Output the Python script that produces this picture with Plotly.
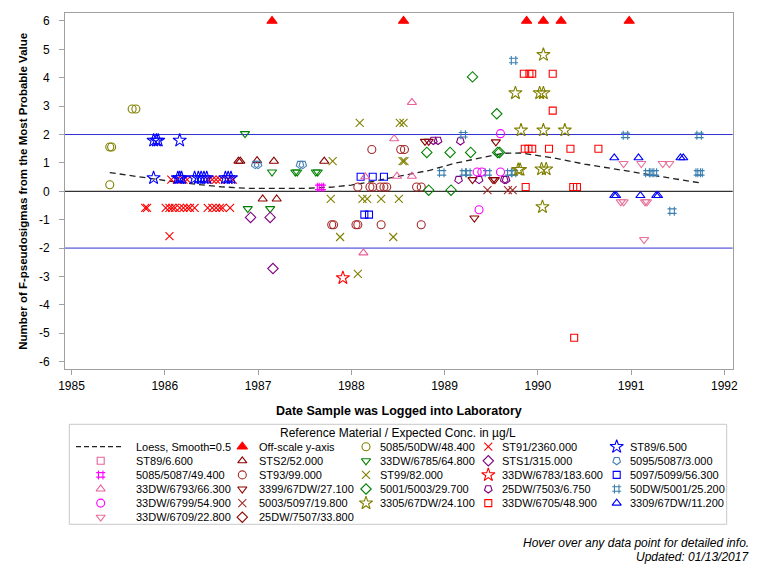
import plotly.graph_objects as go

# ---------------- data (decimal year, F-pseudosigmas) ----------------
x_ticks = [1985, 1986, 1987, 1988, 1989, 1990, 1991, 1992]
y_ticks = [-6, -5, -4, -3, -2, -1, 0, 1, 2, 3, 4, 5, 6]
y_tick_labels = ["-6", "-5", "-4", "-3", "-2", "-1", "0", "1", "2", "3", "4", "5", "6"]
ref_lines_blue = [2, -2]
ref_line_black = [0]

loess_x = [1985.41, 1985.7, 1986.0, 1986.3, 1986.6, 1986.9, 1987.2, 1987.5, 1987.8, 1988.0,
           1988.23, 1988.5, 1988.84, 1989.1, 1989.34, 1989.63, 1989.81, 1990.0, 1990.16,
           1990.5, 1990.88, 1991.3, 1991.73]
loess_y = [0.66, 0.52, 0.38, 0.26, 0.16, 0.10, 0.09, 0.10, 0.15, 0.22,
           0.35, 0.52, 0.74, 0.98, 1.15, 1.34, 1.35, 1.27, 1.18,
           0.96, 0.76, 0.52, 0.30]

offscale_x = [1987.15, 1988.56, 1989.88, 1990.06, 1990.25, 1990.98]
offscale_y = [6, 6, 6, 6, 6, 6]

s5085_50dw_x = [1985.65, 1985.69, 1985.41, 1985.43, 1985.41]
s5085_50dw_y = [2.90, 2.90, 1.56, 1.56, 0.23]

st91_x = [1986.07, 1986.13, 1986.20, 1986.24, 1986.46, 1986.51, 1986.55, 1986.59, 1986.68, 1986.73,
          1985.79, 1985.81, 1986.01, 1986.05, 1986.08, 1986.11, 1986.16, 1986.20, 1986.24, 1986.27,
          1986.32, 1986.46, 1986.51, 1986.55, 1986.59, 1986.62, 1986.70, 1986.05]
st91_y = [0.41, 0.41, 0.41, 0.41, 0.41, 0.41, 0.41, 0.41, 0.41, 0.41,
          -0.58, -0.58, -0.58, -0.58, -0.58, -0.58, -0.58, -0.58, -0.58, -0.58,
          -0.58, -0.58, -0.58, -0.58, -0.58, -0.58, -0.58, -1.58]

st89_65_x = [1985.88, 1985.91, 1985.93, 1986.16, 1985.88, 1986.14, 1986.16, 1986.18,
             1986.32, 1986.36, 1986.39, 1986.42, 1986.45, 1986.65, 1986.68, 1986.71]
st89_65_y = [1.79, 1.79, 1.79, 1.79, 0.47, 0.47, 0.47, 0.47,
             0.47, 0.47, 0.47, 0.47, 0.47, 0.47, 0.47, 0.47]

st89_66_x = []
st89_66_y = []

sts2_x = [1986.79, 1986.81, 1987.17, 1986.99, 1987.71, 1987.05, 1987.20]
sts2_y = [1.06, 1.06, 1.06, 1.08, 1.06, -0.27, -0.27]

s6785_x = [1986.86, 1987.15, 1987.40, 1987.42, 1987.62, 1987.64, 1986.89, 1987.13]
s6785_y = [2.03, 0.68, 0.68, 0.68, 0.68, 0.68, -0.61, -0.61]

sts1_x = [1986.92, 1987.13, 1987.16]
sts1_y = [-0.92, -0.92, -2.72]

s5095_x = [1986.97, 1987.00, 1987.45, 1987.48]
s5095_y = [0.94, 0.94, 0.94, 0.94]

s5085_5087_x = [1987.66, 1987.68]
s5085_5087_y = [0.14, 0.14]

st93_x = [1988.22, 1988.53, 1988.57, 1988.07, 1988.20, 1988.23, 1988.31, 1988.35, 1988.38,
          1988.70, 1988.75, 1987.79, 1987.81, 1988.05, 1988.07, 1988.32, 1988.75]
st93_y = [1.47, 1.47, 1.47, 0.15, 0.15, 0.15, 0.15, 0.15, 0.15,
          0.15, 0.15, -1.18, -1.18, -1.18, -1.18, -1.18, -1.18]

st99_x = [1988.09, 1988.52, 1988.56, 1987.80, 1988.55, 1988.57, 1987.78, 1988.12, 1988.17,
          1988.32, 1988.51, 1987.88, 1988.45, 1988.07]
st99_y = [2.41, 2.41, 2.41, 1.06, 1.06, 1.06, -0.27, -0.27, -0.27,
          -0.27, -0.27, -1.61, -1.61, -2.91]

s6783_x = [1987.91]
s6783_y = [-3.05]

s5097_x = [1988.10, 1988.23, 1988.35, 1988.14, 1988.19]
s5097_y = [0.51, 0.51, 0.51, -0.82, -0.82]

s6793_x = [1988.65, 1988.46, 1988.15, 1988.49, 1988.65, 1988.13]
s6793_y = [3.13, 1.85, 0.51, 0.53, 0.53, -2.17]

s3399_x = [1988.79, 1988.83, 1989.55, 1989.30, 1989.52, 1989.54, 1989.32]
s3399_y = [1.76, 1.76, 1.74, 0.41, 0.41, 0.41, -0.94]

s5001_5003_x = [1989.30, 1989.56, 1988.81, 1989.06, 1989.28, 1989.57, 1989.59, 1988.83, 1989.07]
s5001_5003_y = [4.03, 2.73, 1.37, 1.37, 1.37, 1.37, 1.37, 0.04, 0.04]

s7503_x = [1988.88, 1988.93, 1989.17, 1989.15, 1989.37, 1989.64, 1989.66]
s7503_y = [1.79, 1.79, 1.77, 0.41, 0.41, 0.41, 0.41]

s50dw_x = [1989.74, 1989.20, 1988.97, 1989.21, 1989.25, 1989.46, 1989.70, 1989.74,
           1990.94, 1991.73, 1991.18, 1991.22, 1991.25, 1991.72, 1991.74, 1991.44]
s50dw_y = [4.61, 1.99, 0.65, 0.65, 0.65, 0.65, 0.65, 0.65,
           1.97, 1.97, 0.65, 0.65, 0.65, 0.65, 0.65, -0.70]

s6799_x = [1989.60, 1989.35, 1989.40, 1989.60, 1989.37]
s6799_y = [2.03, 0.68, 0.68, 0.68, -0.65]

s5003_5097_x = [1989.46, 1989.68, 1989.73]
s5003_5097_y = [0.04, 0.04, 0.04]

s3305_x = [1990.06, 1989.76, 1990.02, 1990.06, 1989.82, 1990.06, 1990.29, 1989.79, 1989.81,
           1990.04, 1990.09, 1990.05]
s3305_y = [4.81, 3.46, 3.46, 3.46, 2.15, 2.15, 2.15, 0.76, 0.76,
           0.78, 0.78, -0.55]

s6705_x = [1989.85, 1989.91, 1989.94, 1990.16, 1990.16, 1989.86, 1989.90, 1989.94, 1990.12,
           1990.35, 1990.65, 1989.87, 1990.38, 1990.42, 1990.39]
s6705_y = [4.14, 4.14, 4.14, 4.14, 2.84, 1.50, 1.50, 1.50, 1.50,
           1.50, 1.50, 0.15, 0.15, 0.15, -5.16]

s3309_x = [1990.82, 1991.08, 1991.53, 1991.56, 1990.82, 1990.84, 1991.10, 1991.27, 1991.29]
s3309_y = [1.18, 1.18, 1.18, 1.18, -0.15, -0.15, -0.15, -0.15, -0.15]

s6709_x = [1990.92, 1991.11, 1991.34, 1991.41, 1990.89, 1990.92, 1991.15, 1991.17, 1991.14]
s6709_y = [0.98, 0.98, 0.98, 0.98, -0.37, -0.37, -0.37, -0.37, -1.70]

s7507_x = []
s7507_y = []

# ---------------- series styles (legend order, row-major) ----------------
series = [
    ("Off-scale y-axis", offscale_x, offscale_y, "triangle-up", "#FF0000", 9, 0),
    ("5085/50DW/48.400", s5085_50dw_x, s5085_50dw_y, "circle-open", "#808000", 8, 0),
    ("ST91/2360.000", st91_x, st91_y, "x-thin-open", "#FF0000", 8, 0),
    ("ST89/6.500", st89_65_x, st89_65_y, "star-open", "#0000FF", 10, 0),
    ("ST89/6.600", st89_66_x, st89_66_y, "square-open", "#E8609A", 7, 0),
    ("STS2/52.000", sts2_x, sts2_y, "triangle-up-open", "#8B0000", 8, 0),
    ("33DW/6785/64.800", s6785_x, s6785_y, "triangle-down-open", "#008000", 8, 0),
    ("STS1/315.000", sts1_x, sts1_y, "diamond-open", "#800080", 8, 0),
    ("5095/5087/3.000", s5095_x, s5095_y, "pentagon-open", "#4682B4", 8, 180),
    ("5085/5087/49.400", s5085_5087_x, s5085_5087_y, "hash-open", "#FF00FF", 9, 0),
    ("ST93/99.000", st93_x, st93_y, "circle-open", "#A52A2A", 8, 0),
    ("ST99/82.000", st99_x, st99_y, "x-thin-open", "#808000", 8, 0),
    ("33DW/6783/183.600", s6783_x, s6783_y, "star-open", "#FF0000", 10, 0),
    ("5097/5099/56.300", s5097_x, s5097_y, "square-open", "#0000FF", 7, 0),
    ("33DW/6793/66.300", s6793_x, s6793_y, "triangle-up-open", "#E8609A", 8, 0),
    ("3399/67DW/27.100", s3399_x, s3399_y, "triangle-down-open", "#8B0000", 8, 0),
    ("5001/5003/29.700", s5001_5003_x, s5001_5003_y, "diamond-open", "#008000", 8, 0),
    ("25DW/7503/6.750", s7503_x, s7503_y, "pentagon-open", "#800080", 8, 180),
    ("50DW/5001/25.200", s50dw_x, s50dw_y, "hash-open", "#3A7FB0", 9, 0),
    ("33DW/6799/54.900", s6799_x, s6799_y, "circle-open", "#FF00FF", 8, 0),
    ("5003/5097/19.800", s5003_5097_x, s5003_5097_y, "x-thin-open", "#A52A2A", 8, 0),
    ("3305/67DW/24.100", s3305_x, s3305_y, "star-open", "#808000", 10, 0),
    ("33DW/6705/48.900", s6705_x, s6705_y, "square-open", "#FF0000", 7, 0),
    ("3309/67DW/11.200", s3309_x, s3309_y, "triangle-up-open", "#0000FF", 8, 0),
    ("33DW/6709/22.800", s6709_x, s6709_y, "triangle-down-open", "#E8709A", 8, 0),
    ("25DW/7507/33.800", s7507_x, s7507_y, "diamond-open", "#8B0000", 8, 0),
]

# ---------------- layout geometry ----------------
# the page body adds an 8px margin, so figure pixels = page pixels - 8
OFF = 8
W, H = 768 - OFF, 576 - OFF


def fx(px):
    return px - OFF


def fy(py):
    return py - OFF


PL, PR, PT, PB = fx(65), fx(732.7), fy(13.3), fy(369.3)
FONT = "Liberation Sans, Arial, sans-serif"
AXC = "#A0A0A0"

leg_col_marker = [fx(v) for v in (100.7, 242.3, 366.0, 488.3, 616.7)]
leg_col_text = [fx(v) for v in (134.0, 256.7, 378.3, 500.0, 628.3)]
leg_row0, leg_row_step = fy(446.7), 14.1
leg_box = (fx(69.3), fy(424.3), fx(726.7), fy(524.3))
LEG_TOP = fy(416)

fig = go.Figure()

fig.add_trace(go.Scatter(
    x=loess_x, y=loess_y, mode="lines", name="Loess, Smooth=0.5",
    line=dict(color="#222222", width=1.3, dash="6px,4px"), hoverinfo="skip",
    showlegend=False))

for name, xs, ys, sym, col, size, ang in series:
    fig.add_trace(go.Scatter(
        x=xs, y=ys, mode="markers", name=name, showlegend=False,
        marker=dict(symbol=sym, color=col, size=size, angle=ang,
                    line=dict(color=col, width=1.1)),
        hovertemplate=name + "<br>%{x:.2f}, %{y:.2f}<extra></extra>"))

# ---------------- custom legend on a pixel axis ----------------
annotations = []
shapes = []
for i, (name, xs, ys, sym, col, size, ang) in enumerate(series, start=1):
    c, r = i % 5, i // 5
    fig.add_trace(go.Scatter(
        x=[leg_col_marker[c]], y=[leg_row0 + r * leg_row_step], mode="markers",
        xaxis="x3", yaxis="y3", showlegend=False, hoverinfo="skip",
        marker=dict(symbol=sym, color=col, size=size, angle=ang,
                    line=dict(color=col, width=1.1))))
    annotations.append(dict(x=leg_col_text[c], y=leg_row0 + r * leg_row_step,
                            xref="x3", yref="y3", text=name, showarrow=False,
                            xanchor="left", yanchor="middle",
                            font=dict(size=11, family=FONT, color="black")))
annotations.append(dict(x=leg_col_text[0], y=leg_row0, xref="x3", yref="y3",
                        text="Loess, Smooth=0.5", showarrow=False, xanchor="left",
                        yanchor="middle", font=dict(size=11, family=FONT, color="black")))
annotations.append(dict(x=(leg_box[0] + leg_box[2]) / 2, y=fy(432.7), xref="x3", yref="y3",
                        text="Reference Material / Expected Conc. in µg/L", showarrow=False,
                        xanchor="center", yanchor="middle",
                        font=dict(size=12, family=FONT, color="black")))
shapes.append(dict(type="line", xref="x3", yref="y3", x0=fx(76), x1=fx(123.3),
                   y0=leg_row0, y1=leg_row0,
                   line=dict(color="#222222", width=1.3, dash="5px,3px")))
shapes.append(dict(type="rect", xref="x3", yref="y3", x0=leg_box[0], y0=leg_box[1],
                   x1=leg_box[2], y1=leg_box[3], line=dict(color="#C8C8C8", width=1)))

# reference lines
for v in ref_lines_blue:
    shapes.append(dict(type="line", xref="x domain", yref="y", x0=0, x1=1, y0=v, y1=v,
                       line=dict(color="#3030D0", width=1), layer="below"))
for v in ref_line_black:
    shapes.append(dict(type="line", xref="x domain", yref="y", x0=0, x1=1, y0=v, y1=v,
                       line=dict(color="black", width=1), layer="below"))

# footnotes
annotations.append(dict(x=fx(751) / W, y=1 - fy(543.3) / H, xref="paper", yref="paper",
                        text="<i>Hover over any data point for detailed info.</i>",
                        showarrow=False, xanchor="right", yanchor="middle",
                        font=dict(size=12, family=FONT, color="black")))
annotations.append(dict(x=fx(751) / W, y=1 - fy(556.7) / H, xref="paper", yref="paper",
                        text="<i>Updated: 01/13/2017</i>",
                        showarrow=False, xanchor="right", yanchor="middle",
                        font=dict(size=12, family=FONT, color="black")))

x_range = [1984.93, 1992.09]
y_range = [-6.27, 6.27]

axis_common = dict(showgrid=False, zeroline=False, showline=True, linecolor=AXC,
                   linewidth=1, ticks="outside", ticklen=5, tickwidth=1, tickcolor=AXC,
                   tickfont=dict(size=12, family=FONT, color="black"))

fig.update_layout(
    width=W, height=H,
    margin=dict(l=0, r=0, t=0, b=0, autoexpand=False),
    paper_bgcolor="white", plot_bgcolor="white",
    font=dict(family=FONT, size=12, color="black"),
    showlegend=False,
    xaxis=dict(domain=[PL / W, PR / W], range=x_range, tickvals=x_ticks,
               mirror=True, automargin=False,
               title=dict(text="Date Sample was Logged into Laboratory",
                          font=dict(size=12.5, family=FONT, color="black", weight="bold"),
                          standoff=14),
               **axis_common),
    yaxis=dict(domain=[1 - PB / H, 1 - PT / H], range=y_range, tickvals=y_ticks,
               ticktext=y_tick_labels, mirror=True, automargin=False,
               ticklabelstandoff=7,
               title=dict(text="Number of F-pseudosigmas from the Most Probable Value",
                          font=dict(size=11.5, family=FONT, color="black", weight="bold"),
                          standoff=8),
               **axis_common),
    yaxis2=dict(overlaying="y", side="right", anchor="x", range=y_range, tickvals=y_ticks,
                ticktext=y_tick_labels, matches="y", automargin=False,
                ticklabelstandoff=7, **axis_common),
    xaxis3=dict(domain=[0, 1], range=[0, W], visible=False, fixedrange=True, anchor="y3"),
    yaxis3=dict(domain=[0, (H - LEG_TOP) / H], range=[H, LEG_TOP], visible=False,
                fixedrange=True, anchor="x3"),
    shapes=shapes,
    annotations=annotations,
)

fig.write_html("out.html")
